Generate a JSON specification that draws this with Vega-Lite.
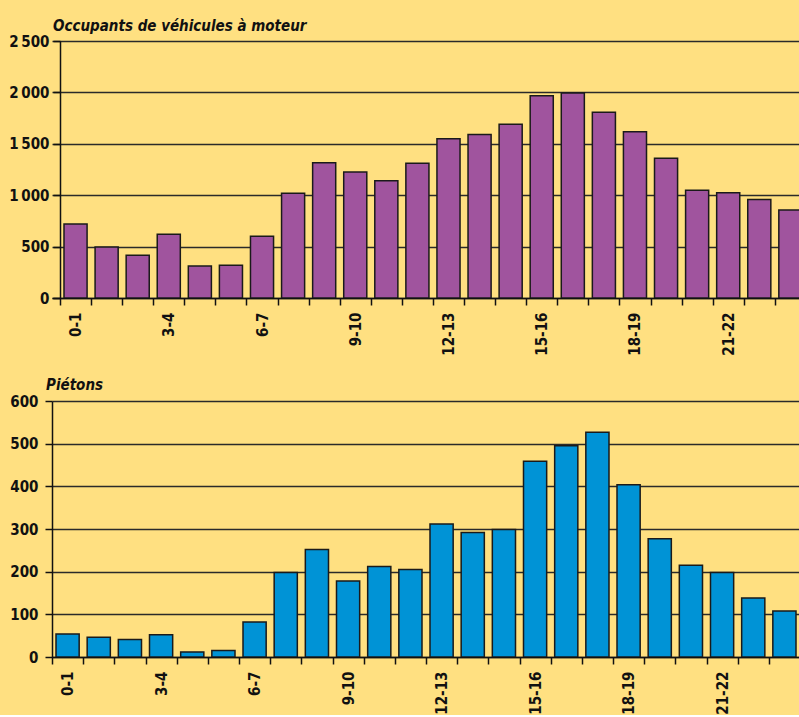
{
  "$schema": "https://vega.github.io/schema/vega-lite/v6.json",
  "background": "#FFE081",
  "padding": {"left": 8, "top": 19, "right": 0, "bottom": 0},
  "columns": 1,
  "spacing": 22,
  "config": {
    "view": {"stroke": null},
    "axis": {
      "labelFont": "DejaVu Sans Condensed, Liberation Sans Narrow, Roboto, sans-serif",
      "labelFontWeight": "bold",
      "labelFontSize": 15,
      "labelColor": "#111111",
      "domainColor": "#111111",
      "domainWidth": 1.5,
      "tickColor": "#111111",
      "tickWidth": 1.5,
      "tickSize": 7,
      "gridColor": "#2a2a2a",
      "gridWidth": 1.5
    },
    "title": {
      "font": "DejaVu Sans Condensed, Liberation Sans Narrow, Roboto, sans-serif",
      "fontStyle": "italic",
      "fontWeight": "bold",
      "fontSize": 15,
      "color": "#111111",
      "anchor": "start",
      "frame": "group"
    }
  },
  "concat": [
    {
      "width": 748,
      "height": 257,
      "title": {"text": "Occupants de véhicules à moteur", "dx": 1, "offset": 0},
      "data": {"values": [
        {"h": 0, "h1": 1, "v": 720},
        {"h": 1, "h1": 2, "v": 495},
        {"h": 2, "h1": 3, "v": 415},
        {"h": 3, "h1": 4, "v": 620},
        {"h": 4, "h1": 5, "v": 311},
        {"h": 5, "h1": 6, "v": 318},
        {"h": 6, "h1": 7, "v": 600},
        {"h": 7, "h1": 8, "v": 1018},
        {"h": 8, "h1": 9, "v": 1315},
        {"h": 9, "h1": 10, "v": 1225},
        {"h": 10, "h1": 11, "v": 1140},
        {"h": 11, "h1": 12, "v": 1312},
        {"h": 12, "h1": 13, "v": 1550},
        {"h": 13, "h1": 14, "v": 1590},
        {"h": 14, "h1": 15, "v": 1690},
        {"h": 15, "h1": 16, "v": 1968},
        {"h": 16, "h1": 17, "v": 1995},
        {"h": 17, "h1": 18, "v": 1808},
        {"h": 18, "h1": 19, "v": 1618},
        {"h": 19, "h1": 20, "v": 1360},
        {"h": 20, "h1": 21, "v": 1049},
        {"h": 21, "h1": 22, "v": 1023},
        {"h": 22, "h1": 23, "v": 958},
        {"h": 23, "h1": 24, "v": 857}
      ]},
      "mark": {"type": "bar", "fill": "#A0549E", "stroke": "#1a1a1a", "strokeWidth": 1.5, "xOffset": 4, "x2Offset": -4, "clip": true},
      "encoding": {
        "x": {
          "field": "h", "type": "quantitative",
          "scale": {"domain": [-0.2574, 23.81], "nice": false, "zero": false},
          "axis": {
            "title": null, "grid": false,
            "values": [0,1,2,3,4,5,6,7,8,9,10,11,12,13,14,15,16,17,18,19,20,21,22,23,0.5,3.5,6.5,9.5,12.5,15.5,18.5,21.5],
            "labelExpr": "datum.value % 1 == 0 ? '' : floor(datum.value) + '-' + (floor(datum.value) + 1)",
            "tickOpacity": {"condition": {"test": "datum.value % 1 != 0", "value": 0}, "value": 1},
            "labelAngle": -90, "labelAlign": "right", "labelBaseline": "middle",
            "labelPadding": 7, "labelOverlap": false, "labelFlush": false, "labelBound": false
          }
        },
        "x2": {"field": "h1"},
        "y": {
          "field": "v", "type": "quantitative",
          "scale": {"domain": [0, 2500], "nice": false},
          "axis": {
            "title": null, "values": [0, 500, 1000, 1500, 2000, 2500], "offset": -8,
            "labelExpr": "datum.value >= 1000 ? floor(datum.value / 1000) + '\u2009' + substring(format(datum.value, 'd'), 1) : format(datum.value, 'd')",
            "labelPadding": 4
          }
        },
        "y2": {"datum": 0}
      }
    },
    {
      "width": 748,
      "height": 256,
      "title": {"text": "Piétons", "dx": -6, "offset": 1},
      "data": {"values": [
        {"h": 0, "h1": 1, "v": 54},
        {"h": 1, "h1": 2, "v": 46},
        {"h": 2, "h1": 3, "v": 41},
        {"h": 3, "h1": 4, "v": 52},
        {"h": 4, "h1": 5, "v": 12},
        {"h": 5, "h1": 6, "v": 15},
        {"h": 6, "h1": 7, "v": 82},
        {"h": 7, "h1": 8, "v": 198},
        {"h": 8, "h1": 9, "v": 252},
        {"h": 9, "h1": 10, "v": 178},
        {"h": 10, "h1": 11, "v": 212},
        {"h": 11, "h1": 12, "v": 205},
        {"h": 12, "h1": 13, "v": 312},
        {"h": 13, "h1": 14, "v": 292},
        {"h": 14, "h1": 15, "v": 299},
        {"h": 15, "h1": 16, "v": 459},
        {"h": 16, "h1": 17, "v": 495},
        {"h": 17, "h1": 18, "v": 527},
        {"h": 18, "h1": 19, "v": 404},
        {"h": 19, "h1": 20, "v": 277},
        {"h": 20, "h1": 21, "v": 215},
        {"h": 21, "h1": 22, "v": 198},
        {"h": 22, "h1": 23, "v": 138},
        {"h": 23, "h1": 24, "v": 108}
      ]},
      "mark": {"type": "bar", "fill": "#0093D6", "stroke": "#1a1a1a", "strokeWidth": 1.5, "xOffset": 4, "x2Offset": -4, "clip": true},
      "encoding": {
        "x": {
          "field": "h", "type": "quantitative",
          "scale": {"domain": [0, 24], "nice": false, "zero": false},
          "axis": {
            "title": null, "grid": false,
            "values": [0,1,2,3,4,5,6,7,8,9,10,11,12,13,14,15,16,17,18,19,20,21,22,23,24,0.5,3.5,6.5,9.5,12.5,15.5,18.5,21.5],
            "labelExpr": "datum.value % 1 == 0 ? '' : floor(datum.value) + '-' + (floor(datum.value) + 1)",
            "tickOpacity": {"condition": {"test": "datum.value % 1 != 0", "value": 0}, "value": 1},
            "labelAngle": -90, "labelAlign": "right", "labelBaseline": "middle",
            "labelPadding": 7, "labelOverlap": false, "labelFlush": false, "labelBound": false
          }
        },
        "x2": {"field": "h1"},
        "y": {
          "field": "v", "type": "quantitative",
          "scale": {"domain": [0, 600], "nice": false},
          "axis": {
            "title": null, "values": [0, 100, 200, 300, 400, 500, 600],
            "labelPadding": 7
          }
        },
        "y2": {"datum": 0}
      }
    }
  ]
}
